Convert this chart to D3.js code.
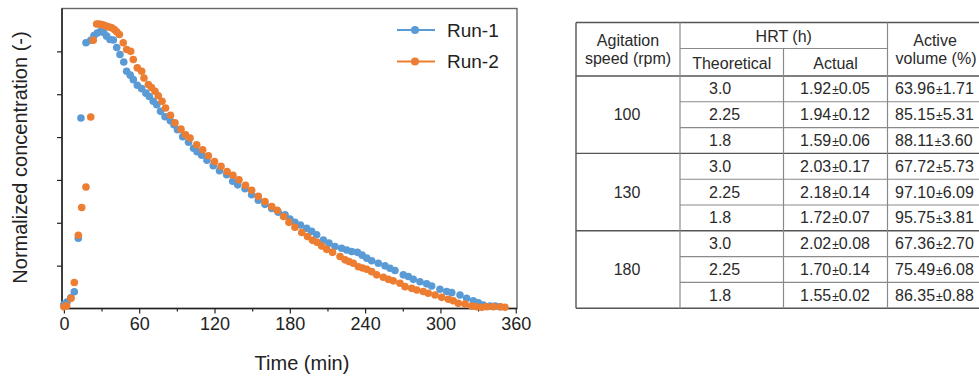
<!DOCTYPE html>
<html>
<head>
<meta charset="utf-8">
<script src="https://cdn.jsdelivr.net/npm/d3@7"></script>
<style>
  html, body { margin: 0; padding: 0; background: #fff; }
  svg { display: block; font-family: Arial, "Liberation Sans", sans-serif; }
</style>
</head>
<body>
<svg id="chart" width="979" height="381"></svg>
<script>
// ---------------- Data ----------------
const seriesNames = ["Run-1", "Run-2"];
const seriesColors = ["#5B9BD5", "#ED7D31"];

const run1Time = [0, 2.5, 5.5, 8.3, 11.5, 13.6, 17.6, 21.4, 24.0, 26.6,
  29.3, 31.6, 34.1, 36.7, 39.4, 42.1, 44.7, 47.7, 50.0, 52.9,
  55.3, 58.5, 62.0, 65.4, 68.1, 71.2, 74.0, 77.0, 80.6, 84.8,
  87.7, 90.5, 94.7, 99.3, 103.3, 106.1, 109.8, 114.0, 119.0, 124.0,
  129.7, 134.5, 138.5, 144.3, 149.6, 154.9, 160.2, 165.6, 170.8, 176.2,
  180.1, 184.1, 188.5, 193.4, 197.4, 201.4, 206.7, 211.2, 216.0, 221.3,
  225.3, 229.3, 233.9, 237.6, 241.3, 245.2, 250.5, 255.8, 259.8, 263.8,
  270.4, 274.4, 278.4, 283.7, 289.0, 293.0, 299.6, 305.0, 309.0, 315.6,
  320.9, 326.2, 330.2, 334.1, 339.5, 343.5, 347.5];
const run1Value = [0.020, 0.030, 0.050, 0.078, 0.328, 0.889, 1.240, 1.252, 1.274, 1.286,
  1.294, 1.288, 1.271, 1.255, 1.253, 1.218, 1.185, 1.150, 1.107, 1.089,
  1.068, 1.042, 1.026, 1.005, 0.989, 0.967, 0.951, 0.920, 0.895, 0.876,
  0.858, 0.834, 0.802, 0.776, 0.748, 0.732, 0.715, 0.692, 0.666, 0.643,
  0.624, 0.594, 0.577, 0.559, 0.531, 0.505, 0.486, 0.467, 0.449, 0.437,
  0.417, 0.402, 0.390, 0.374, 0.360, 0.344, 0.320, 0.305, 0.289, 0.281,
  0.273, 0.266, 0.262, 0.249, 0.235, 0.223, 0.211, 0.199, 0.188, 0.177,
  0.157, 0.149, 0.136, 0.125, 0.115, 0.105, 0.090, 0.079, 0.074, 0.063,
  0.048, 0.036, 0.027, 0.016, 0.012, 0.012, 0.008];

const run2Time = [0, 2.2, 5.7, 8.3, 11.5, 14.2, 17.6, 21.4, 23.4,
  26.1, 28.0, 30.1, 32.0, 34.1, 36.2, 38.1, 40.2, 42.1, 44.2,
  47.3, 50.0, 53.2, 55.3, 58.5, 62.0, 63.8, 67.3, 69.8, 72.6,
  75.2, 78.2, 81.0, 84.9, 88.5, 93.3, 96.9, 100.5, 105.8, 110.6,
  115.1, 120.0, 125.2, 130.0, 134.7, 139.5, 144.7, 149.6, 154.9, 160.2,
  165.6, 170.0, 175.0, 179.3, 184.1, 189.5, 194.1, 198.1, 201.7, 205.4,
  209.4, 214.0, 220.0, 224.0, 227.2, 230.6, 234.6, 238.0, 241.3, 245.2,
  249.2, 254.5, 258.5, 262.4, 267.8, 271.8, 277.1, 281.1, 286.3, 290.3,
  295.7, 301.0, 306.3, 310.2, 314.2, 319.6, 324.9, 328.9, 332.9, 336.9,
  342.1, 347.5, 351.4];
const run2Value = [0.008, 0.013, 0.048, 0.121, 0.342, 0.471, 0.567, 0.894, 1.252,
  1.328, 1.328, 1.325, 1.322, 1.317, 1.313, 1.310, 1.302, 1.291, 1.279,
  1.240, 1.209, 1.200, 1.162, 1.123, 1.107, 1.076, 1.045, 1.031, 1.014,
  0.993, 0.967, 0.936, 0.902, 0.867, 0.837, 0.811, 0.796, 0.764, 0.741,
  0.713, 0.686, 0.664, 0.639, 0.622, 0.601, 0.575, 0.552, 0.524, 0.499,
  0.476, 0.458, 0.429, 0.402, 0.379, 0.355, 0.336, 0.318, 0.309, 0.292,
  0.276, 0.262, 0.243, 0.227, 0.219, 0.211, 0.195, 0.189, 0.183, 0.172,
  0.157, 0.146, 0.136, 0.129, 0.118, 0.102, 0.094, 0.086, 0.079, 0.071,
  0.063, 0.052, 0.043, 0.036, 0.024, 0.021, 0.012, 0.008, 0.006, 0.008,
  0.008, 0.008, 0.006];

const xMajorTicks = [0, 60, 120, 180, 240, 300, 360];
const xMinorTicks = [30, 90, 150, 210, 270, 330];
const yTicks = [0.2, 0.4, 0.6, 0.8, 1.0, 1.2];
const xTitle = "Time (min)";
const yTitle = "Normalized concentration (-)";

// Table data
const tableHeadSpeed = ["Agitation", "speed (rpm)"];
const tableHeadHRT = "HRT (h)";
const tableHeadSub = ["Theoretical", "Actual"];
const tableHeadVol = ["Active", "volume (%)"];
const speeds = ["100", "130", "180"];
const theoretical = ["3.0", "2.25", "1.8", "3.0", "2.25", "1.8", "3.0", "2.25", "1.8"];
const actualMean = ["1.92", "1.94", "1.59", "2.03", "2.18", "1.72", "2.02", "1.70", "1.55"];
const actualSd = ["0.05", "0.12", "0.06", "0.17", "0.14", "0.07", "0.08", "0.14", "0.02"];
const volMean = ["63.96", "85.15", "88.11", "67.72", "97.10", "95.75", "67.36", "75.49", "86.35"];
const volSd = ["1.71", "5.31", "3.60", "5.73", "6.09", "3.81", "2.70", "6.08", "0.88"];

// ---------------- Chart ----------------
const svg = d3.select("#chart");
svg.append("rect").attr("width", 979).attr("height", 381).attr("fill", "#fff");

const plot = { left: 62, right: 517, top: 8.5, bottom: 308.5 };
const x = d3.scaleLinear().domain([-1.5, 361]).range([plot.left, plot.right]);
const y = d3.scaleLinear().domain([0, 1.4]).range([plot.bottom, plot.top]);

// frame
svg.append("rect")
  .attr("x", plot.left).attr("y", plot.top)
  .attr("width", plot.right - plot.left).attr("height", plot.bottom - plot.top)
  .attr("fill", "none").attr("stroke", "#666").attr("stroke-width", 1.4);
svg.append("line").attr("x1", plot.left).attr("x2", plot.left)
  .attr("y1", plot.top).attr("y2", plot.bottom).attr("stroke", "#222").attr("stroke-width", 1.5);
svg.append("line").attr("x1", plot.left).attr("x2", plot.right)
  .attr("y1", plot.bottom).attr("y2", plot.bottom).attr("stroke", "#222").attr("stroke-width", 1.5);

// x axis
const gx = svg.append("g").attr("transform", `translate(0,${plot.bottom})`)
  .call(d3.axisBottom(x).tickValues(xMajorTicks).tickSize(5).tickPadding(4).tickFormat(d3.format("d")));
gx.select(".domain").remove();
gx.selectAll("line").attr("stroke", "#222").attr("stroke-width", 1.2);
gx.selectAll("text").attr("font-size", 18).attr("fill", "#222")
  .attr("font-family", "Arial, 'Liberation Sans', sans-serif");

const gxm = svg.append("g").attr("transform", `translate(0,${plot.bottom})`)
  .call(d3.axisBottom(x).tickValues(xMinorTicks).tickSize(3).tickFormat(""));
gxm.select(".domain").remove();
gxm.selectAll("line").attr("stroke", "#222").attr("stroke-width", 1.2);

// y axis (ticks only)
const gy = svg.append("g").attr("transform", `translate(${plot.left},0)`)
  .call(d3.axisLeft(y).tickValues(yTicks).tickSize(5).tickFormat(""));
gy.select(".domain").remove();
gy.selectAll("line").attr("stroke", "#222").attr("stroke-width", 1.2);

// titles
svg.append("text").attr("x", 302).attr("y", 370)
  .attr("text-anchor", "middle").attr("font-size", 20).attr("fill", "#222").text(xTitle);
svg.append("text").attr("transform", "translate(27,157.5) rotate(-90)")
  .attr("text-anchor", "middle").attr("font-size", 20).attr("fill", "#222").text(yTitle);

// points
const series = [
  { name: seriesNames[0], color: seriesColors[0], t: run1Time, v: run1Value },
  { name: seriesNames[1], color: seriesColors[1], t: run2Time, v: run2Value }
];
series.forEach(s => {
  svg.append("g").selectAll("circle")
    .data(s.t.map((t, i) => [t, s.v[i]]))
    .join("circle")
    .attr("cx", d => x(d[0])).attr("cy", d => y(d[1]))
    .attr("r", 3.8).attr("fill", s.color);
});

// legend
series.forEach((s, i) => {
  const ly = 30 + i * 31.5;
  const g = svg.append("g");
  g.append("line").attr("x1", 397).attr("x2", 435).attr("y1", ly).attr("y2", ly)
    .attr("stroke", s.color).attr("stroke-width", 2.2);
  g.append("circle").attr("cx", 415).attr("cy", ly).attr("r", 4).attr("fill", s.color);
  g.append("text").attr("x", 447).attr("y", ly + 6.5).attr("font-size", 19).attr("fill", "#222").text(s.name);
});

// ---------------- Table ----------------
const colX = [576, 680, 783.5, 887.5, 988];
const tTop = 22.5, tMid = 48.5, tHead = 76, rowH = 25.8;
const nRows = theoretical.length;
const tBottom = tHead + rowH * nRows;
const tg = svg.append("g");
const thin = "#8a8a8a", thick = "#555";
const txt = "#2a2a2a";

function hline(x1, x2, yy, color, w) {
  tg.append("line").attr("x1", x1).attr("x2", x2).attr("y1", yy).attr("y2", yy)
    .attr("stroke", color).attr("stroke-width", w);
}
function vline(xx, y1, y2, color, w) {
  tg.append("line").attr("x1", xx).attr("x2", xx).attr("y1", y1).attr("y2", y2)
    .attr("stroke", color).attr("stroke-width", w);
}

// horizontal lines
hline(colX[0], colX[4], tTop, thick, 1.4);
hline(colX[1], colX[3], tMid, thin, 1.1);
hline(colX[0], colX[4], tHead, thick, 1.4);
for (let r = 1; r < nRows; r++) {
  const yy = tHead + r * rowH;
  if (r % 3 === 0) hline(colX[0], colX[4], yy, thick, 1.4);
  else hline(colX[1], colX[4], yy, thin, 1.1);
}
hline(colX[0], colX[4], tBottom, thick, 1.4);
// vertical lines
vline(colX[0], tTop, tBottom, thick, 1.4);
vline(colX[1], tTop, tBottom, thin, 1.2);
vline(colX[2], tMid, tBottom, thin, 1.2);
vline(colX[3], tTop, tBottom, thin, 1.2);
vline(colX[4], tTop, tBottom, thick, 1.4);

function ttext(xx, yy, s, anchor) {
  return tg.append("text").attr("x", xx).attr("y", yy).attr("text-anchor", anchor || "middle")
    .attr("font-size", 16).attr("fill", txt).text(s);
}
// header
ttext(628, 45.5, tableHeadSpeed[0]);
ttext(628, 64, tableHeadSpeed[1]);
ttext((colX[1] + colX[3]) / 2, 41.5, tableHeadHRT);
ttext((colX[1] + colX[2]) / 2, 69, tableHeadSub[0]);
ttext((colX[2] + colX[3]) / 2, 69, tableHeadSub[1]);
ttext(935, 45.5, tableHeadVol[0]);
ttext(936, 64, tableHeadVol[1]);

// speeds (merged cells)
speeds.forEach((s, i) => {
  ttext(627, tHead + rowH * (i * 3 + 1.5) + 5.5, s);
});

function pmText(xx, yy, mean, sd, anchor) {
  const t = tg.append("text").attr("x", xx).attr("y", yy).attr("text-anchor", anchor)
    .attr("font-size", 16).attr("fill", txt);
  t.append("tspan").text(mean);
  t.append("tspan").attr("font-size", 12).attr("dx", 1).text("±");
  t.append("tspan").text(sd);
}

for (let r = 0; r < nRows; r++) {
  const yy = tHead + rowH * (r + 0.5) + 5.5;
  ttext(709, yy, theoretical[r], "start");
  pmText(835, yy, actualMean[r], actualSd[r], "middle");
  pmText(895, yy, volMean[r], volSd[r], "start");
}
</script>
</body>
</html>
